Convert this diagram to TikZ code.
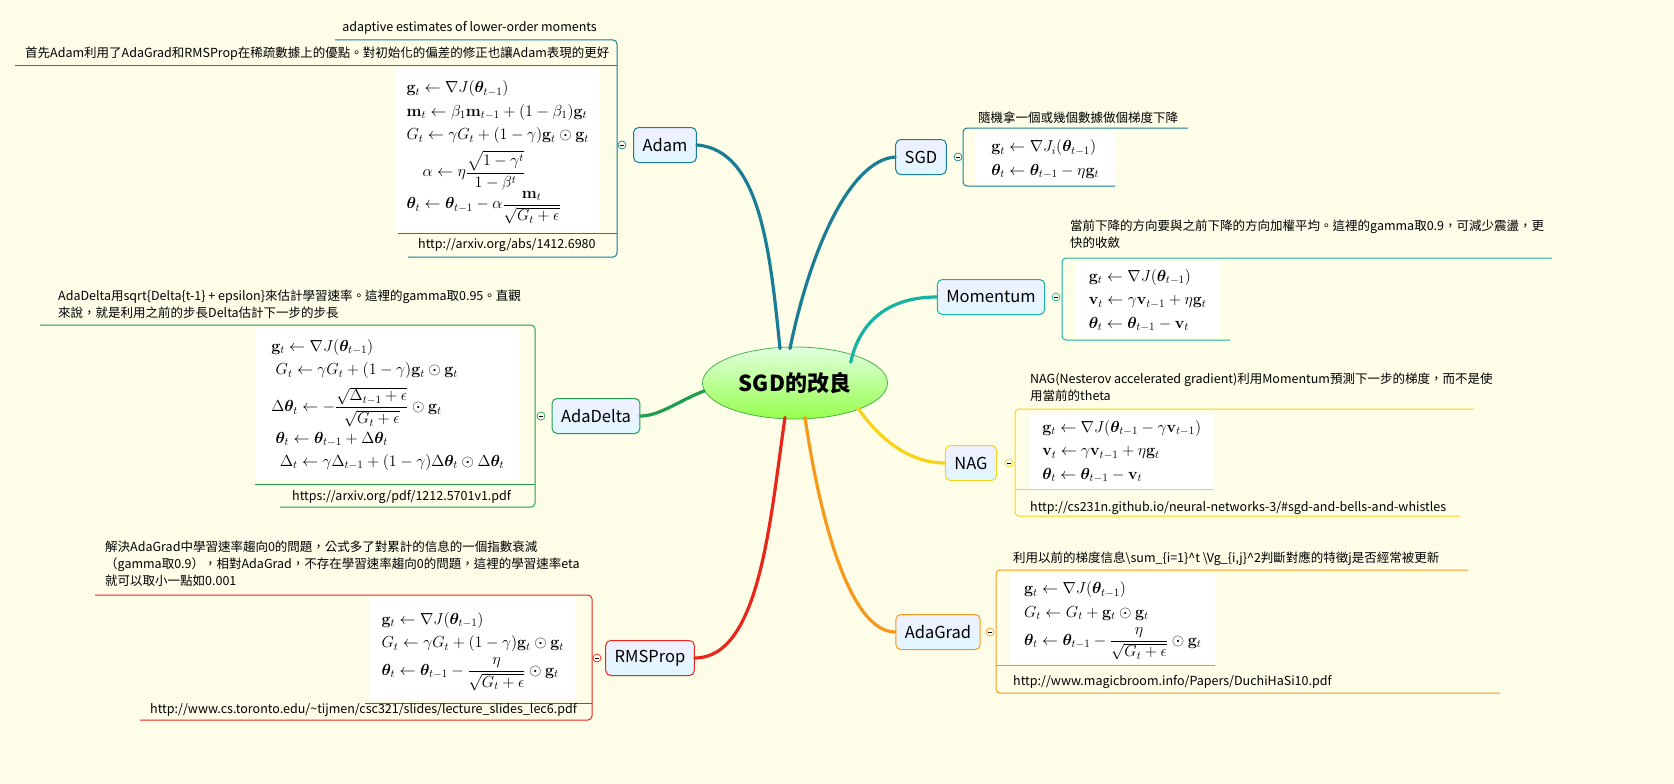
\RequirePackage{fix-cm}
\documentclass[tikz,border=0pt]{standalone}
\usepackage{amsmath,amssymb,bm}
\usepackage[no-math]{fontspec}
\setmainfont{Noto Sans CJK TC}
\usetikzlibrary{shapes.geometric}
\definecolor{bg}{HTML}{FEFDE8}
\definecolor{cadam}{HTML}{1A7D95}
\definecolor{cmom}{HTML}{17B2A0}
\definecolor{cnag}{HTML}{F7D31A}
\definecolor{cagr}{HTML}{F59A1D}
\definecolor{cadd}{HTML}{1E9E4E}
\definecolor{crms}{HTML}{E8261C}
\tikzset{
  topic/.style={draw=#1, line width=1pt, rounded corners=5pt, top color=blue!6, bottom color=blue!25!cyan!12!white, minimum height=35pt, inner xsep=9pt, font=\fontsize{16.5}{18}\selectfont},
  branch/.style={draw=#1, line width=3.2pt, line cap=round},
  note/.style={font=\fontsize{12.5}{17}\selectfont, inner sep=0pt, align=left},
  fbox/.style={fill=white, inner xsep=5pt, inner ysep=3pt, font=\fontsize{16}{18}\selectfont},
  coll/.style={circle, draw=#1, fill=bg, inner sep=0pt, minimum size=8pt, line width=0.7pt},
  lin/.style={draw=#1, line width=1pt, rounded corners=4pt}
}
\newcommand{\minus}{\raisebox{0.3pt}{\rule{4pt}{0.6pt}}}
\renewcommand{\arraystretch}{1.3}
\begin{document}
\begin{tikzpicture}[x=1pt,y=-1pt]
\path[fill=bg] (0,0) rectangle (1674,784);
\useasboundingbox (0,0) rectangle (1674,784);

% center
\node[ellipse, draw=green!40!gray, line width=0.8pt, top color=green!12, bottom color=green!45!lime!70!white, minimum width=185pt, minimum height=72pt, font=\bfseries\fontsize{22}{24}\selectfont] (c) at (795,383) {SGD的改良};

% topics
\node[topic=cadam] (adam) at (665,145) {Adam};
\node[topic=cadam] (sgd) at (921,157) {SGD};
\node[topic=cmom] (mom) at (991,297) {Momentum};
\node[topic=cnag] (nag) at (971,463) {NAG};
\node[topic=cagr] (agr) at (938,632) {AdaGrad};
\node[topic=cadd] (add) at (596,416) {AdaDelta};
\node[topic=crms] (rms) at (650,658) {RMSProp};

% branches
\draw[branch=cadam] (c.north) ++(-15,2) .. controls (770,250) and (760,150) .. (adam.east);
\draw[branch=cadam] (c.north) ++(-5,2) .. controls (810,250) and (850,160) .. (sgd.west);
\draw[branch=cmom] (c.north east) ++(-10,5) .. controls (860,320) and (890,297) .. (mom.west);
\draw[branch=cnag] (c.east) ++(-30,25) .. controls (880,440) and (910,463) .. (nag.west);
\draw[branch=cagr] (c.south) ++(10,-2) .. controls (820,520) and (850,632) .. (agr.west);
\draw[branch=cadd] (c.west) ++(2,8) .. controls (680,400) and (660,416) .. (add.east);
\draw[branch=crms] (c.south) ++(-10,-2) .. controls (770,520) and (760,658) .. (rms.east);

% ---------- Adam
\draw[lin=cadam] (335,40) -- (617,40) -- (617,257) -- (408,257);
\draw[cadam, line width=1pt] (15,66) -- (617,66);
\draw[cadam, line width=1pt] (398,233) -- (617,233);
\node[note, anchor=base east] (adamt1) at (597,32) {adaptive estimates of lower-order moments};
\node[note, anchor=base west] (adamt2) at (25,58) {首先Adam利用了AdaGrad和RMSProp在稀疏數據上的優點。對初始化的偏差的修正也讓Adam表現的更好};
\node[fbox, anchor=north west, minimum width=205pt, minimum height=164pt] (adamf) at (395,68) {$\begin{array}{l}
\mathbf{g}_t \leftarrow \nabla J(\bm{\theta}_{t-1})\\
\mathbf{m}_t \leftarrow \beta_1\mathbf{m}_{t-1}+(1-\beta_1)\mathbf{g}_t\\
G_t \leftarrow \gamma G_t+(1-\gamma)\mathbf{g}_t\odot\mathbf{g}_t\\[4pt]
\quad\alpha \leftarrow \eta\dfrac{\sqrt{1-\gamma^t}}{1-\beta^t}\\[6pt]
\bm{\theta}_t\leftarrow\bm{\theta}_{t-1}-\alpha\dfrac{\mathbf{m}_t}{\sqrt{G_t+\epsilon}}
\end{array}$};
\node[note, anchor=base west] (adamu) at (418,248) {http://arxiv.org/abs/1412.6980};
\node[coll=cadam] (adamc) at (622,145) {\minus};

% ---------- SGD
\draw[lin=cadam] (1188,128) -- (963,128) -- (963,186) -- (1115,186);
\node[note, anchor=base] (sgdt) at (1078,122) {隨機拿一個或幾個數據做個梯度下降};
\node[fbox, anchor=north west, minimum width=140pt, minimum height=53pt] (sgdf) at (975,132) {$\begin{array}{l}
\mathbf{g}_t \leftarrow \nabla J_i(\bm{\theta}_{t-1})\\
\bm{\theta}_t \leftarrow \bm{\theta}_{t-1}-\eta\mathbf{g}_t
\end{array}$};
\node[coll=cadam] (sgdc) at (958,157) {\minus};

% ---------- Momentum
\draw[lin=cmom] (1552,258) -- (1062,258) -- (1062,340) -- (1230,340);
\node[note, anchor=north west] (momt) at (1070,220) {當前下降的方向要與之前下降的方向加權平均。這裡的gamma取0.9，可減少震盪，更\\快的收斂};
\node[fbox, anchor=north west, minimum width=145pt, minimum height=75pt] (momf) at (1075,262) {$\begin{array}{l}
\mathbf{g}_t \leftarrow \nabla J(\bm{\theta}_{t-1})\\
\mathbf{v}_t \leftarrow \gamma\mathbf{v}_{t-1}+\eta\mathbf{g}_t\\
\bm{\theta}_t \leftarrow \bm{\theta}_{t-1}-\mathbf{v}_t
\end{array}$};
\node[coll=cmom] (momc) at (1056,297) {\minus};

% ---------- NAG
\draw[lin=cnag] (1474,409) -- (1015,409) -- (1015,516) -- (1460,516);
\draw[cnag, line width=1pt] (1015,489) -- (1213,489);
\node[note, anchor=north west] (nagt) at (1030,373) {NAG(Nesterov accelerated gradient)利用Momentum預測下一步的梯度，而不是使\\用當前的theta};
\node[fbox, anchor=north west, minimum width=183pt, minimum height=74pt] (nagf) at (1030,413) {$\begin{array}{l}
\mathbf{g}_t \leftarrow \nabla J(\bm{\theta}_{t-1}-\gamma\mathbf{v}_{t-1})\\
\mathbf{v}_t \leftarrow \gamma\mathbf{v}_{t-1}+\eta\mathbf{g}_t\\
\bm{\theta}_t \leftarrow \bm{\theta}_{t-1}-\mathbf{v}_t
\end{array}$};
\node[note, anchor=base west] (nagu) at (1030,511) {http://cs231n.github.io/neural-networks-3/\#sgd-and-bells-and-whistles};
\node[coll=cnag] (nagc) at (1009,463) {\minus};

% ---------- AdaGrad
\draw[lin=cagr] (1468,570) -- (996,570) -- (996,693) -- (1500,693);
\draw[cagr, line width=1pt] (996,665) -- (1215,665);
\node[note, anchor=base west] (agrt) at (1013,562) {利用以前的梯度信息\textbackslash sum\_\{i=1\}\^{}t \textbackslash Vg\_\{i,j\}\^{}2判斷對應的特徵j是否經常被更新};
\node[fbox, anchor=north west, minimum width=205pt, minimum height=91pt] (agrf) at (1010,573) {$\begin{array}{l}
\mathbf{g}_t \leftarrow \nabla J(\bm{\theta}_{t-1})\\
G_t \leftarrow G_t+\mathbf{g}_t\odot\mathbf{g}_t\\[3pt]
\bm{\theta}_t \leftarrow \bm{\theta}_{t-1}-\dfrac{\eta}{\sqrt{G_t+\epsilon}}\odot\mathbf{g}_t
\end{array}$};
\node[note, anchor=base west] (agru) at (1013,685) {http://www.magicbroom.info/Papers/DuchiHaSi10.pdf};
\node[coll=cagr] (agrc) at (990,632) {\minus};

% ---------- AdaDelta
\draw[lin=cadd] (40,325) -- (535,325) -- (535,507) -- (280,507);
\draw[cadd, line width=1pt] (255,484) -- (535,484);
\node[note, anchor=north west] (addt) at (58,290) {AdaDelta用sqrt\{Delta\{t-1\} + epsilon\}來估計學習速率。這裡的gamma取0.95。直觀\\來說，就是利用之前的步長Delta估計下一步的步長};
\node[fbox, anchor=north west, minimum width=265pt, minimum height=152pt] (addf) at (255,328) {$\begin{array}{l}
\mathbf{g}_t \leftarrow \nabla J(\bm{\theta}_{t-1})\\
\;G_t \leftarrow \gamma G_t+(1-\gamma)\mathbf{g}_t\odot\mathbf{g}_t\\[6pt]
\Delta\bm{\theta}_t \leftarrow -\dfrac{\sqrt{\Delta_{t-1}+\epsilon}}{\sqrt{G_t+\epsilon}}\odot\mathbf{g}_t\\[2pt]
\;\bm{\theta}_t \leftarrow \bm{\theta}_{t-1}+\Delta\bm{\theta}_t\\
\;\;\Delta_t \leftarrow \gamma\Delta_{t-1}+(1-\gamma)\Delta\bm{\theta}_t\odot\Delta\bm{\theta}_t
\end{array}$};
\node[note, anchor=base west] (addu) at (292,500) {https://arxiv.org/pdf/1212.5701v1.pdf};
\node[coll=cadd] (addc) at (541,416) {\minus};

% ---------- RMSProp
\draw[lin=crms] (95,595) -- (592,595) -- (592,720) -- (140,720);
\draw[crms, line width=1pt] (365,703) -- (592,703);
\node[note, anchor=north west] (rmst) at (105,541) {解決AdaGrad中學習速率趨向0的問題，公式多了對累計的信息的一個指數衰減\\（gamma取0.9），相對AdaGrad，不存在學習速率趨向0的問題，這裡的學習速率eta\\就可以取小一點如0.001};
\node[fbox, anchor=north west, minimum width=205pt, minimum height=102pt] (rmsf) at (370,598) {$\begin{array}{l}
\mathbf{g}_t \leftarrow \nabla J(\bm{\theta}_{t-1})\\
G_t \leftarrow \gamma G_t+(1-\gamma)\mathbf{g}_t\odot\mathbf{g}_t\\[3pt]
\bm{\theta}_t \leftarrow \bm{\theta}_{t-1}-\dfrac{\eta}{\sqrt{G_t+\epsilon}}\odot\mathbf{g}_t
\end{array}$};
\node[note, anchor=base west] (rmsu) at (150,713) {http://www.cs.toronto.edu/\textasciitilde tijmen/csc321/slides/lecture\_slides\_lec6.pdf};
\node[coll=crms] (rmsc) at (597,658) {\minus};
\end{tikzpicture}
\end{document}
